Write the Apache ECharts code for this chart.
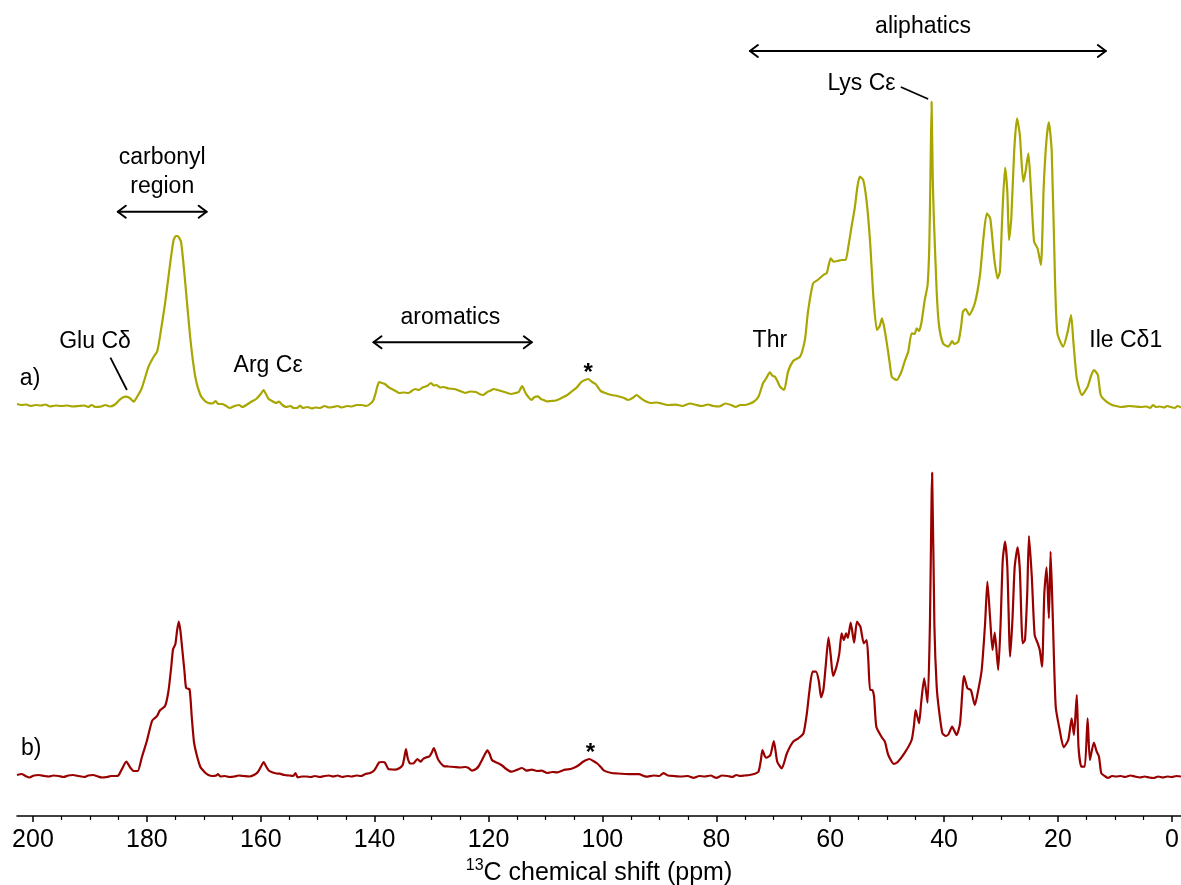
<!DOCTYPE html>
<html>
<head>
<meta charset="utf-8">
<title>13C CP-MAS spectra</title>
<script src="https://cdn.jsdelivr.net/npm/echarts@6/dist/echarts.min.js"></script>
<style>
  html, body { margin: 0; padding: 0; background: #fff; }
  #main { width: 1181px; height: 885px; }
</style>
</head>
<body>
<div id="main"></div>
<script>
// Chemical shift axis (ppm) tick values
const majorTicks = [0, 20, 40, 60, 80, 100, 120, 140, 160, 180, 200];
const minorTicks = [5, 10, 15, 25, 30, 35, 45, 50, 55, 65, 70, 75, 85, 90, 95,
  105, 110, 115, 125, 130, 135, 145, 150, 155, 165, 170, 175, 185, 190, 195];

// Spectrum a): [shift ppm, intensity]
const spectrumA = [
  [202.8, 2], [202, 1], [201.2, 1.5], [200.4, 0], [199.5, 1], [198.6, 0.5], [197.8, 1.5], [197, -0.5],
  [196, 0.5], [195, 0], [194, 0.5], [193, -0.5], [192, 0], [191, 0.5], [190.3, -1], [189.7, 1],
  [189, -1], [188, -0.5], [187.3, 1], [186.5, -0.5], [185.6, 1.5], [184.7, 6.7], [183.8, 9.3], [183, 8],
  [182.3, 4.3], [181.7, 9.3], [180.9, 17.7], [179.7, 39.3], [178.8, 49.3], [178.2, 54.3], [177.7, 69.3],
  [176.8, 102.7], [175.9, 142.7], [175.3, 166], [174.9, 170], [174.6, 170], [174.0, 164.3], [173.3, 126],
  [172.4, 69.3], [171.5, 29.3], [170.6, 11], [169.8, 5], [169.2, 3], [168.5, 2.5], [167.9, 5], [167.5, 2],
  [166.8, 2], [166.2, 0.5], [165.4, -2], [164.6, 0], [163.8, 1], [163.2, -1], [162.4, 1.5], [161.6, 4.5],
  [160.8, 7], [160.0, 12], [159.5, 16], [159.0, 11], [158.6, 7], [158.0, 5], [157.3, 3], [156.8, 4.5],
  [156.2, 1], [155.5, -1], [154.8, 0], [154.2, -2], [153.6, -2], [153.1, 0.5], [152.6, -2], [151.8, -1],
  [151, -2.5], [150.4, -1.5], [149.6, -2], [148.8, 0], [148, -1.5], [147.3, -1], [146.5, 0], [145.8, -1.5],
  [144.8, 0], [144, -0.5], [143.2, 1], [142.3, 1], [141.5, 0], [140.7, 2.5], [140.2, 6], [139.9, 11.4],
  [139.5, 20], [139.2, 24], [138.7, 23], [138.2, 22], [137.6, 19], [137.0, 17], [136.3, 15], [135.7, 13],
  [134.9, 13.5], [134.1, 13], [133.5, 15], [132.9, 17], [132.2, 16], [131.6, 18.6], [130.8, 20], [130.1, 23],
  [129.6, 20.5], [129.1, 21], [128.5, 18.5], [127.9, 19], [127, 17.5], [126.0, 17], [125.0, 15], [124.1, 13],
  [123.2, 14.5], [122.2, 14], [121.6, 12], [121.0, 11], [120.2, 14], [119.6, 15.5], [119.1, 17], [118.4, 16],
  [117.8, 15], [116.9, 13.5], [116.0, 12], [115.3, 13], [114.7, 14], [114.1, 20], [113.5, 13], [113, 9],
  [112.5, 6], [111.9, 9], [111.3, 9.6], [110.8, 7], [110.3, 6], [109.7, 4.5], [109.1, 5], [108.2, 5.5],
  [107.2, 8], [106.3, 10.5], [105.3, 15], [104.5, 18.5], [103.7, 24], [103.0, 26], [102.5, 27], [101.8, 24],
  [101.2, 22], [100.7, 18], [100.3, 15], [99.5, 13], [98.4, 11], [97.4, 10], [96.2, 8], [95.5, 6],
  [94.7, 8], [94.0, 11], [93.3, 8], [92.5, 5], [91.5, 3], [90.5, 3.5], [89.6, 2.5], [88.6, 1],
  [87.1, 1.4], [86, 0], [84.6, 2.5], [83.5, 1], [82.5, 0], [81.5, 1.5], [80.5, 0], [79.5, -0.5],
  [78.4, 2.5], [77.4, 1], [76.6, -1], [75.8, 1], [75.0, 1], [74.3, 2], [73.5, 4], [72.6, 9.3],
  [71.8, 22.7], [71.2, 28], [70.6, 33.7], [70.1, 30], [69.7, 29.3], [69.2, 24], [68.8, 19.3], [68.1, 16],
  [67.4, 34.3], [66.5, 45], [65.3, 49.3], [64.9, 55], [64.4, 67.7], [63.9, 94.3], [63.0, 122.7], [62.2, 126],
  [61.2, 131], [60.6, 133], [60.3, 140], [59.9, 147.7], [59.4, 144.3], [58.7, 145], [58.0, 146], [57.3, 146],
  [56.8, 160], [56.2, 181], [55.7, 197.7], [55.2, 220], [54.8, 229.3], [54.2, 226], [53.6, 204.3], [53.0, 164.3],
  [52.4, 107.7], [51.8, 76], [51.3, 80], [50.9, 87.7], [50.5, 78], [50.1, 64.3], [49.6, 45], [49.2, 29.3],
  [48.7, 27], [48.3, 26], [47.5, 34.3], [46.9, 45], [46.3, 54.3], [45.7, 72.7], [45.2, 72], [44.8, 77.7],
  [44.4, 75], [44.0, 82.7], [43.4, 106], [42.9, 121], [42.6, 160], [42.4, 230], [42.2, 304.3], [42.0, 230],
  [41.8, 188], [41.3, 114.3], [40.9, 81], [40.2, 62.7], [39.3, 59.3], [38.9, 62], [38.6, 65], [38.2, 62],
  [37.5, 64.3], [37.0, 80], [36.7, 94.3], [36.2, 97], [35.6, 91], [34.6, 102.7], [33.7, 131], [33.1, 167.7],
  [32.5, 192.7], [31.9, 187.7], [31.2, 147.7], [30.6, 127.7], [30.2, 134.3], [29.8, 187.7], [29.3, 238.3], [28.9, 214.3],
  [28.6, 166], [28.2, 187.7], [27.7, 254.3], [27.2, 287.7], [26.7, 271], [26.1, 224.3], [25.7, 234.3], [25.2, 252.7],
  [24.8, 221], [24.2, 164.3], [23.6, 157.7], [23.0, 141], [22.5, 221], [22.0, 267.7], [21.6, 283.7], [21.1, 254.3],
  [20.5, 121], [20.1, 72.7], [19.1, 59.3], [18.3, 74.3], [17.7, 91], [17.3, 64.3], [16.7, 27.7], [15.8, 11],
  [14.8, 19.3], [14.2, 30], [13.7, 36], [13.0, 31], [12.5, 11], [11.5, 4.3], [10.5, 1], [10.0, 0.3],
  [9, -1], [8.3, -0.7], [7.5, 0], [6.5, -0.5], [5.5, -1], [4.5, -0.5], [3.8, -2], [3.3, 1],
  [2.8, -1], [2.1, -0.5], [1.4, -1.5], [0.8, 0], [0.2, -1], [-0.5, -2], [-1.0, 0], [-1.6, -1.5]
];

// Spectrum b): [shift ppm, intensity]
const spectrumB = [
  [202.8, 1], [202, 2], [201.3, 0], [200.6, -1.5], [199.8, 0.5], [199, 1], [198, 0], [197.2, -0.5],
  [196.4, 0.5], [195.5, 0], [194.6, -1], [193.8, 0.5], [193, 1], [192, 0], [191, -1], [190.3, 0.5],
  [189.4, 1], [188.6, -0.5], [187.9, -1.5], [187, -1], [186.3, 0], [185.5, 0], [185.0, 0.5], [184.4, 6.7],
  [183.6, 14.3], [182.9, 8.3], [182.3, 5], [181.6, 5], [180.9, 18.3], [180.0, 35], [179.1, 55], [178.6, 58],
  [178.2, 60], [177.7, 65.7], [176.8, 70], [176.2, 85], [175.7, 110], [175.4, 126.7], [175.0, 131.7], [174.7, 145],
  [174.4, 154.3], [174.1, 145], [173.8, 128], [173.4, 105], [173.1, 88], [172.5, 86.7], [172.1, 58], [171.7, 33],
  [171.1, 18], [170.6, 9], [170.3, 6.7], [169.7, 3], [169.2, 1], [168.5, 0], [167.8, 0.5], [167.5, 2],
  [167.1, -0.5], [166.3, 0], [165.5, -1], [164.6, -0.5], [163.9, 0.5], [163, 0], [162, -0.5], [161.2, 1],
  [160.5, 4], [159.9, 10], [159.5, 14], [159.0, 9], [158.6, 5.5], [157.9, 3.5], [157.2, 2.5], [156.7, 2.3],
  [155.8, 1], [155, 0.5], [154.3, 0], [153.9, 3], [153.5, -1.5], [152.8, -0.5], [152, -0.5], [151.2, -1],
  [150.5, 0], [149.6, -1], [148.8, 0], [148, 0.5], [147.3, -0.5], [146.5, 0.5], [145.7, -1], [144.8, 0],
  [144.0, -0.5], [143.2, 0.5], [142.4, 0], [141.7, 1.8], [140.8, 3], [140.1, 5.4], [139.6, 10], [139.2, 13.6],
  [138.7, 14], [138.2, 13.6], [137.6, 7], [137.0, 6.5], [136.3, 6.4], [135.6, 8], [135.1, 10.7], [134.8, 18],
  [134.5, 26.8], [134.2, 18], [133.8, 12.5], [133.2, 12.5], [132.5, 17], [131.9, 14.3], [131.5, 17], [131.0, 18.6],
  [130.4, 19.6], [130.0, 23], [129.6, 27.9], [129.2, 22], [128.8, 16], [127.9, 10], [127, 9.5], [126.0, 9],
  [125, 8.5], [124.1, 9], [123.5, 8], [122.9, 5.4], [122.2, 7], [121.7, 10], [121.3, 14.3], [120.7, 21],
  [120.2, 25.7], [119.8, 22], [119.4, 16], [118.8, 14], [118.2, 12.5], [117.5, 10], [116.9, 7], [116.0, 4.3],
  [115.1, 6], [114.1, 8], [113.3, 5.4], [112.4, 6.4], [111.5, 5], [110.7, 5.4], [109.7, 3], [108.8, 4],
  [108, 3.6], [106.6, 6.4], [105.6, 7], [104.7, 9], [104, 11.5], [103.4, 14.3], [102.3, 17], [101.6, 15],
  [100.9, 12.5], [100.3, 9], [99.7, 5.4], [98.4, 3], [97.4, 2.5], [96, 2], [94.7, 1.8], [93.6, 1.8],
  [92.3, -0.7], [91, 0.5], [90, 0], [89.3, 2.9], [88.5, 0.5], [87.5, 0], [86.2, -0.5], [85, 0],
  [84, -1.8], [83, 0], [82, -0.5], [81, 0.5], [80, -1.8], [79, 0.5], [78, 0], [77.2, -1],
  [76.5, 1], [75.8, 0], [75, 0.5], [74.2, 1], [73.4, 2], [72.6, 4.3], [72.2, 15], [71.9, 26],
  [71.5, 20], [71.2, 18.3], [70.5, 21], [69.9, 35], [69.3, 14.3], [68.5, 7.7], [67.6, 22.7], [66.5, 34.3],
  [65.6, 37.7], [64.7, 42.7], [64.1, 62.7], [63.7, 82.7], [63.1, 104.3], [62.5, 104.3], [62.0, 95], [61.6, 78.7],
  [61.2, 86], [60.8, 109.3], [60.3, 138.7], [59.9, 120], [59.5, 100], [58.9, 109.3], [58.4, 122.7], [58.0, 142.7],
  [57.6, 136], [57.2, 142.7], [56.9, 138], [56.4, 153.3], [55.8, 133.3], [55.3, 154.3], [54.7, 149.3], [54.1, 132.7],
  [53.6, 136], [53.3, 115], [53.0, 86], [52.6, 86], [52.3, 79.3], [51.9, 49.3], [51.0, 39.3], [50.4, 34.3],
  [49.8, 21], [48.8, 12], [48.1, 14.3], [46.9, 23.3], [45.7, 36], [45.3, 50], [45.0, 66], [44.4, 52.7],
  [44.0, 75], [43.5, 97.7], [42.9, 73.3], [42.5, 149.3], [42.1, 303.3], [41.7, 149.3], [41.3, 89.3], [40.9, 66],
  [40.3, 42.7], [39.7, 40], [39.2, 42], [38.6, 49.3], [37.8, 41], [37.2, 52.7], [36.5, 100], [35.9, 87.7],
  [35.3, 86], [34.6, 71], [34.0, 86], [33.4, 106], [32.8, 152.7], [32.4, 194.3], [31.9, 156], [31.5, 126],
  [31.1, 143.3], [30.5, 106], [30.1, 149.3], [29.7, 216], [29.3, 234.3], [28.9, 209.3], [28.4, 119.3], [28.0, 156],
  [27.6, 209.3], [27.1, 228.7], [26.7, 206], [26.2, 132.7], [25.8, 136], [25.4, 182.7], [25.1, 240], [24.6, 199.3],
  [24.1, 141], [23.6, 133.3], [23.2, 126], [22.8, 109.3], [22.4, 182.7], [22.0, 208.7], [21.6, 157.7], [21.3, 224.3],
  [20.9, 156], [20.4, 69.3], [19.7, 46], [19.0, 28.7], [18.2, 36], [17.6, 57.7], [17.2, 41], [16.7, 81],
  [16.4, 29.3], [15.9, 9.3], [15.3, 9.3], [14.8, 57.7], [14.4, 16], [13.7, 33.3], [13.2, 24.3], [12.8, 19.3],
  [12.4, 2.7], [11.8, 0], [11.2, -2], [10.5, 0], [9.8, -0.5], [9, 0], [8.2, -1], [7.3, 0.5],
  [6.5, -0.5], [5.6, -1.5], [4.8, -0.5], [4, -1.5], [3.2, -2], [2.4, -0.5], [1.6, -1.5], [0.8, -0.5],
  [0, -1], [-0.8, 0], [-1.6, -0.5]
];

// Text annotations: [shift ppm, height, text]
const annotations = [
  [43.7, 789, 'aliphatics'],
  [54.5, 732, 'Lys Cε'],
  [177.3, 658, 'carbonyl'],
  [177.3, 629, 'region'],
  [189.1, 474, 'Glu Cδ'],
  [158.7, 450, 'Arg Cε'],
  [126.7, 498, 'aromatics'],
  [70.6, 475, 'Thr'],
  [8.1, 475, 'Ile Cδ1'],
  [200.5, 437, 'a)'],
  [200.3, 67, 'b)']
];
// Spinning sidebands: [shift ppm, height]
const sidebands = [[102.5, 443], [102.1, 63]];
// Region arrows: [from ppm, to ppm, height]
const regionArrows = [[74.1, 11.6, 765], [185.1, 169.5, 604.3], [140.2, 112.4, 473.7]];
// Leader lines: [[ppm, height], [ppm, height]]
const leaders = [[[47.6, 729], [42.8, 717]], [[186.4, 458.3], [183.5, 426]]];

// vertical stacking of the two traces
const offsetA = 410;
const offsetB = 40;

const FONT = "Arial, 'Liberation Sans', sans-serif";

const chart = echarts.init(document.getElementById('main'));

chart.setOption({
  animation: false,
  backgroundColor: '#fff',
  grid: { left: 17, right: 0, top: 0, bottom: 69, containLabel: false, outerBoundsMode: 'none' },
  xAxis: [
    {
      type: 'value', inverse: true, min: -1.6, max: 202.8, position: 'bottom',
      axisLine: { show: true, lineStyle: { color: '#000', width: 1.5 } },
      axisTick: { show: true, length: 6, customValues: majorTicks, lineStyle: { color: '#000', width: 1.5 } },
      axisLabel: { customValues: majorTicks, fontSize: 25, color: '#000', fontFamily: FONT, margin: 12 },
      splitLine: { show: false },
      name: '{sup|13}{main|C chemical shift (ppm)}',
      nameLocation: 'middle',
      nameGap: 41,
      nameTextStyle: {
        rich: {
          sup: { fontSize: 16, fontFamily: FONT, color: '#000', verticalAlign: 'top', lineHeight: 16 },
          main: { fontSize: 25, fontFamily: FONT, color: '#000', lineHeight: 30 }
        }
      }
    },
    {
      type: 'value', inverse: true, min: -1.6, max: 202.8, position: 'bottom', offset: 0,
      axisLine: { show: false },
      axisTick: { show: true, length: 4, customValues: minorTicks, lineStyle: { color: '#000', width: 1.2 } },
      axisLabel: { show: false },
      splitLine: { show: false }
    }
  ],
  yAxis: { type: 'value', min: 0, max: 816, show: false },
  series: [
    {
      name: 'a)', type: 'line', xAxisIndex: 0, showSymbol: false, symbol: 'none',
      smooth: 0.2,
      data: spectrumA.map(p => [p[0], p[1] + offsetA]),
      lineStyle: { color: '#a8a600', width: 2.2 }
    },
    {
      name: 'b)', type: 'line', xAxisIndex: 0, showSymbol: false, symbol: 'none',
      smooth: 0.2,
      data: spectrumB.map(p => [p[0], p[1] + offsetB]),
      lineStyle: { color: '#990000', width: 2.2 }
    }
  ]
});

// annotation layer, positioned in data coordinates
const toPx = p => chart.convertToPixel({ gridIndex: 0 }, p);
const graphics = [];

annotations.forEach(([ppm, h, text]) => {
  const [x, y] = toPx([ppm, h]);
  graphics.push({
    type: 'text', x, y, silent: true,
    style: { text, fontSize: 23, fontFamily: FONT, fill: '#000', align: 'center', verticalAlign: 'middle' }
  });
});

sidebands.forEach(([ppm, h]) => {
  const [x, y] = toPx([ppm, h]);
  graphics.push({
    type: 'text', x, y, silent: true,
    style: { text: '*', fontSize: 24, fontWeight: 'bold', fontFamily: FONT, fill: '#000', align: 'center', verticalAlign: 'middle' }
  });
});

const arrowStyle = { stroke: '#000', lineWidth: 2, fill: null, lineCap: 'round', lineJoin: 'round' };
regionArrows.forEach(([from, to, h]) => {
  const [x1, y] = toPx([from, h]);
  const [x2] = toPx([to, h]);
  graphics.push({ type: 'polyline', silent: true, shape: { points: [[x1, y], [x2, y]] }, style: arrowStyle });
  graphics.push({ type: 'polyline', silent: true, shape: { points: [[x1 + 8, y - 6], [x1, y], [x1 + 8, y + 6]] }, style: arrowStyle });
  graphics.push({ type: 'polyline', silent: true, shape: { points: [[x2 - 8, y - 6], [x2, y], [x2 - 8, y + 6]] }, style: arrowStyle });
});

leaders.forEach(([a, b]) => {
  graphics.push({ type: 'polyline', silent: true, shape: { points: [toPx(a), toPx(b)] }, style: { stroke: '#000', lineWidth: 1.8, fill: null } });
});

chart.setOption({ graphic: graphics });
</script>
</body>
</html>
